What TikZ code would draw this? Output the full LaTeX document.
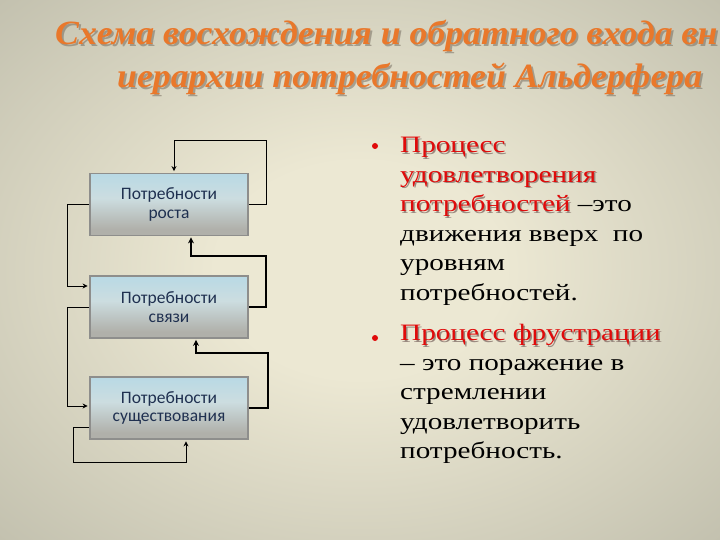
\documentclass[tikz,border=0pt]{standalone}
\usepackage{fontspec}
\setmainfont{Liberation Serif}
\newfontfamily\boxfont{Carlito}
\newfontfamily\titlefont{Liberation Serif}
\usepackage{graphicx}
\usetikzlibrary{arrows.meta}

\definecolor{bgin}{HTML}{ECE8D3}
\definecolor{bgmid}{HTML}{C2C0AE}
\definecolor{bgout}{HTML}{949286}
\definecolor{titleor}{HTML}{E9782B}
\definecolor{titlesh}{HTML}{6E6458}
\definecolor{procred}{HTML}{E00A0A}
\definecolor{redshadow}{HTML}{9A8A80}
\definecolor{boxtxt}{HTML}{1F3050}
\definecolor{boxedge}{HTML}{8E8E8C}
\definecolor{bxtop}{HTML}{A0D4EA}
\definecolor{bxmid}{HTML}{CCDDE0}
\definecolor{bxgray}{HTML}{B0B0AA}
\definecolor{bxbot}{HTML}{D6D2D6}

\pgfdeclareradialshading{bgsh}{\pgfpoint{0bp}{0bp}}{color(0bp)=(bgin); color(10bp)=(bgin); color(36bp)=(bgmid); color(60bp)=(bgout)}
\pgfdeclareverticalshading{boxsh}{100bp}{color(0bp)=(bxbot); color(14bp)=(bxgray); color(30bp)=(bxgray); color(55bp)=(bxmid); color(100bp)=(bxtop)}

\newlength\twA
\newlength\twB
\newcommand\redsh[1]{\rlap{\hspace{1.2pt}\raisebox{-1.2pt}{\textcolor{redshadow}{#1}}}\textcolor{procred}{#1}}

\tikzset{
  needbox/.style={shade, shading=boxsh, draw=boxedge, line width=1.8pt,
    minimum width=158pt, minimum height=62pt, inner sep=0pt, align=center,
    font=\boxfont\fontsize{17.5}{18.5}\selectfont, text=boxtxt},
  thinlink/.style={draw=black, line width=1pt, -{Stealth[length=5pt,width=5pt]}, shorten >=1.5pt},
  thicklink/.style={draw=black, line width=2pt, -{Stealth[length=6pt,width=6pt]}, shorten >=1pt},
  titlestyle/.style={inner sep=0pt, anchor=base west, font=\titlefont\fontsize{34}{38}\selectfont\bfseries\itshape},
  bulletdot/.style={circle, fill=procred, minimum size=6pt, inner sep=0pt}
}

\begin{document}
\settowidth{\twA}{\titlefont\fontsize{34}{38}\selectfont\bfseries\itshape иерархии потребностей Альдерфера}%
\pgfmathsetmacro{\tf}{585/\twA}%
\settowidth{\twB}{\fontsize{23.5}{29.5}\selectfont движения вверх\ \ по}%
\pgfmathsetmacro{\rf}{243/\twB}%
\begin{tikzpicture}[x=1pt,y=-1pt]
\useasboundingbox (0,0) rectangle (720,540);
\shade[shading=bgsh] (0,0) rectangle (720,540);

% title
\begin{scope}
\clip (0,0) rectangle (720,540);
\node[titlestyle, text=titlesh, opacity=0.5] (t1s) at (57,47) {\scalebox{\tf}[1]{Схема восхождения и обратного входа вн}};
\node[titlestyle, text=titleor] (t1) at (55,45) {\scalebox{\tf}[1]{Схема восхождения и обратного входа вн}};
\node[titlestyle, text=titlesh, opacity=0.5] (t2s) at (119,90) {\scalebox{\tf}[1]{иерархии потребностей Альдерфера}};
\node[titlestyle, text=titleor] (t2) at (117,88) {\scalebox{\tf}[1]{иерархии потребностей Альдерфера}};
\end{scope}

% boxes
\node[needbox] (g) at (169,204.5) {Потребности\\роста};
\node[needbox] (r) at (169,307) {Потребности\\связи};
\node[needbox] (e) at (169,408) {Потребности\\существования};

% connectors
\coordinate (c1) at (266,141);
\coordinate (c2) at (67,286);
\coordinate (c3) at (266,256);
\coordinate (c4) at (67,406);
\coordinate (c5) at (268,353);
\coordinate (c6) at (73,462);
\draw[thinlink] (g.east) -| (c1) -| ([xshift=5pt]g.north);
\draw[thinlink] (g.west) -| (c2) -- ([yshift=21pt]r.west);
\draw[thicklink] (r.east) -| (c3) -| ([xshift=22pt]g.south);
\draw[thinlink] (r.west) -| (c4) -- ([yshift=2pt]e.west);
\draw[thicklink] (e.east) -| (c5) -| ([xshift=27pt]r.south);
\draw[thinlink] ([yshift=-19pt]e.west) -| (c6) -| ([xshift=17pt]e.south);

% right text
\node[bulletdot] (b1) at (375,146) {};
\node[bulletdot] (b2) at (375,338) {};
\node[inner sep=0pt, anchor=base west, font=\fontsize{23.5}{29.5}\selectfont] (txt) at (400,153)
  {\scalebox{\rf}[1]{\begin{tabular}[t]{@{}l@{}}
  \redsh{Процесс}\\
  \redsh{удовлетворения}\\
  \redsh{потребностей} –это\\
  движения вверх\ \ по\\
  уровням\\
  потребностей.\\[11pt]
  \redsh{Процесс фрустрации}\\
  – это поражение в\\
  стремлении\\
  удовлетворить\\
  потребность.
  \end{tabular}}};
\end{tikzpicture}
\end{document}
